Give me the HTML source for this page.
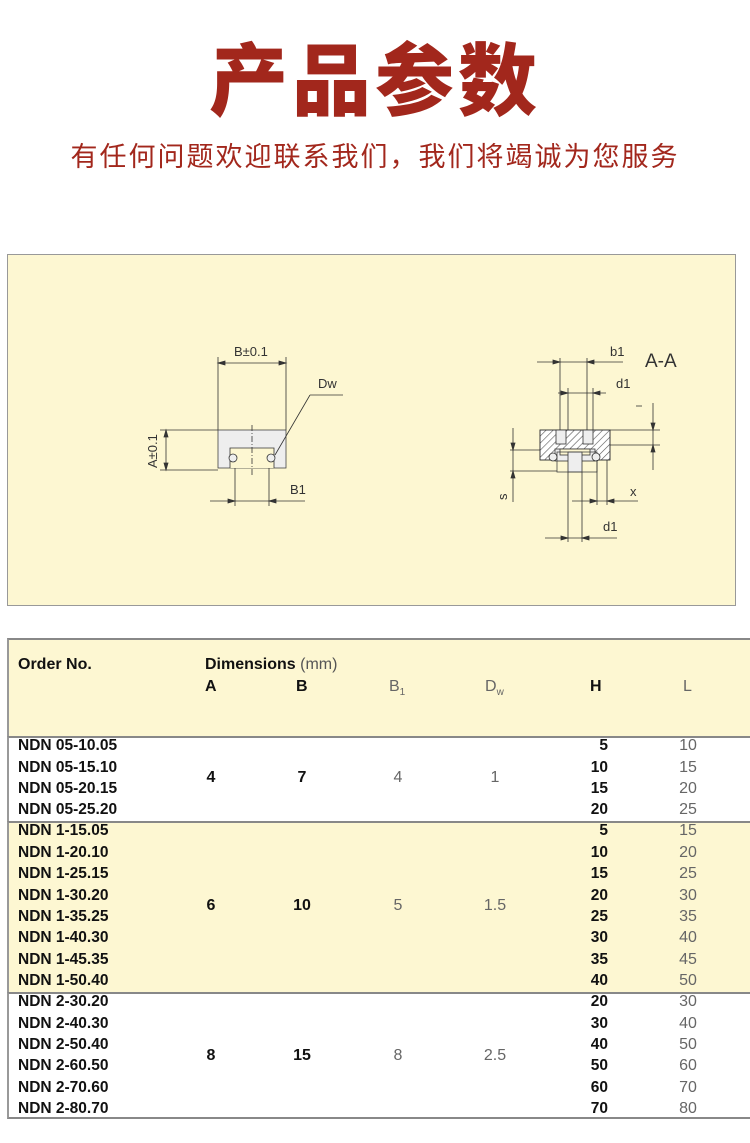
<!DOCTYPE html>
<html><head><meta charset="utf-8"><style>
body{margin:0;width:750px;height:1143px;background:#fff;position:relative;overflow:hidden;font-family:"Liberation Sans",Arial,sans-serif}
.t{position:absolute;white-space:nowrap}
.o{position:absolute;left:18px;font-weight:bold;font-size:15.5px;color:#111;height:20px;line-height:20px}
.h{position:absolute;width:40px;left:568px;text-align:right;font-weight:bold;font-size:15.5px;color:#111;height:20px;line-height:20px}
.l{position:absolute;width:40px;left:668px;text-align:center;font-size:16px;color:#666;height:20px;line-height:20px}
.c{position:absolute;height:20px;line-height:20px;font-size:16px;text-align:center;width:40px}
.b{font-weight:bold;color:#111}
.g{color:#666}
</style></head><body>
<div class="t" style="left:0;width:750px;top:34px;text-align:center;font-family:'Liberation Sans','Noto Sans CJK SC',sans-serif;font-weight:900;font-size:79px;color:#a2271c;letter-spacing:4px;line-height:95px">产品参数</div>
<div class="t" style="left:0;width:750px;top:139px;text-align:center;font-family:'Liberation Sans','Noto Sans CJK SC',sans-serif;font-size:27px;color:#a2271c;letter-spacing:2px;line-height:36px">有任何问题欢迎联系我们，我们将竭诚为您服务</div>

<div style="position:absolute;left:7px;top:254px;width:729px;height:352px;background:#fdf7d2;border:1px solid #999;box-sizing:border-box"></div>
<svg style="position:absolute;left:0;top:0" width="750" height="620" viewBox="0 0 750 620" fill="none" stroke="#333" stroke-width="0.8" font-family="Liberation Sans, sans-serif">
<line x1="218" y1="357" x2="218" y2="430"/><line x1="286" y1="357" x2="286" y2="430"/>
<line x1="218" y1="363" x2="286" y2="363"/>
<path d="M218 363 l7 -2 v4z M286 363 l-7 -2 v4z" fill="#333"/>
<text x="234" y="356" font-size="13" fill="#333" stroke="none">B±0.1</text>
<rect x="218" y="430" width="68" height="38" fill="#eeeeee" stroke="#444"/>
<path d="M230 468 v-20 h44 v20" fill="#fdf7d2"/>
<circle cx="233" cy="458" r="4" fill="#eee"/><circle cx="271" cy="458" r="4" fill="#eee"/>
<line x1="252" y1="425" x2="252" y2="475" stroke-dasharray="6 2 1 2"/>
<line x1="160" y1="430" x2="218" y2="430"/><line x1="160" y1="470" x2="218" y2="470"/>
<line x1="166" y1="430" x2="166" y2="470"/>
<path d="M166 430 l-2 7 h4z M166 470 l-2 -7 h4z" fill="#333"/>
<text transform="translate(157,468) rotate(-90)" font-size="13" fill="#333" stroke="none">A±0.1</text>
<line x1="275" y1="455" x2="310" y2="395"/><line x1="310" y1="395" x2="343" y2="395"/>
<text x="318" y="388" font-size="13" fill="#333" stroke="none">Dw</text>
<line x1="235" y1="468" x2="235" y2="506"/><line x1="269" y1="468" x2="269" y2="506"/>
<line x1="210" y1="501" x2="305" y2="501"/>
<path d="M235 501 l-7 -2 v4z M269 501 l7 -2 v4z" fill="#333"/>
<text x="290" y="494" font-size="13" fill="#333" stroke="none">B1</text>
<defs><pattern id="hatch" width="5" height="5" patternUnits="userSpaceOnUse" patternTransform="rotate(45)"><line x1="0" y1="0" x2="0" y2="5" stroke="#555" stroke-width="1.2"/></pattern></defs>
<rect x="540" y="430" width="70" height="30" fill="#fff"/>
<path d="M540 430 h70 v30 h-70z" fill="url(#hatch)"/>
<rect x="555" y="449" width="40" height="12" fill="#eee"/>
<rect x="560" y="449" width="30" height="6" fill="#fdf7d2"/>
<rect x="556" y="430" width="10" height="14" fill="#eee"/><rect x="583" y="430" width="10" height="14" fill="#eee"/>
<rect x="568" y="452" width="14" height="20" fill="#eee"/>
<rect x="557" y="452" width="40" height="20" fill="none" stroke="#444"/>
<circle cx="553" cy="457" r="4" fill="#eee"/><circle cx="596" cy="457" r="4" fill="#eee"/>
<line x1="560" y1="358" x2="560" y2="430"/><line x1="587" y1="358" x2="587" y2="430"/>
<line x1="537" y1="362" x2="623" y2="362"/>
<path d="M560 362 l-7 -2 v4z M587 362 l7 -2 v4z" fill="#333"/>
<text x="610" y="356" font-size="13" fill="#333" stroke="none">b1</text>
<text x="645" y="367" font-size="19" fill="#333" stroke="none">A-A</text>
<line x1="568" y1="388" x2="568" y2="430"/><line x1="593" y1="388" x2="593" y2="430"/>
<line x1="558" y1="393" x2="606" y2="393"/>
<path d="M568 393 l-7 -2 v4z M593 393 l7 -2 v4z" fill="#333"/>
<text x="616" y="388" font-size="13" fill="#333" stroke="none">d1</text>
<line x1="610" y1="430" x2="660" y2="430"/><line x1="610" y1="445" x2="660" y2="445"/>
<line x1="653" y1="403" x2="653" y2="470"/>
<path d="M653 430 l-2 -7 h4z M653 445 l-2 7 h4z" fill="#333"/>
<line x1="636" y1="406" x2="642" y2="406"/>
<line x1="510" y1="450" x2="540" y2="450"/><line x1="510" y1="471" x2="557" y2="471"/>
<line x1="513" y1="428" x2="513" y2="502"/>
<path d="M513 450 l-2 -7 h4z M513 471 l-2 7 h4z" fill="#333"/>
<text transform="translate(507,500) rotate(-90)" font-size="13" fill="#333" stroke="none">s</text>
<line x1="597" y1="460" x2="597" y2="505"/><line x1="607" y1="460" x2="607" y2="505"/>
<line x1="572" y1="501" x2="638" y2="501"/>
<path d="M597 501 l-7 -2 v4z M607 501 l7 -2 v4z" fill="#333"/>
<text x="630" y="496" font-size="13" fill="#333" stroke="none">x</text>
<line x1="568" y1="472" x2="568" y2="542"/><line x1="582" y1="472" x2="582" y2="542"/>
<line x1="545" y1="538" x2="617" y2="538"/>
<path d="M568 538 l-7 -2 v4z M582 538 l7 -2 v4z" fill="#333"/>
<text x="603" y="531" font-size="13" fill="#333" stroke="none">d1</text>
</svg>

<div style="position:absolute;left:7px;top:638px;width:743px;height:98px;background:#fdf7d2;border-top:2px solid #888;border-left:2px solid #999;box-sizing:border-box"></div>
<div style="position:absolute;left:7px;top:736px;width:743px;height:86px;background:#fff;border-top:2px solid #888;border-left:2px solid #999;box-sizing:border-box"></div>
<div style="position:absolute;left:7px;top:821px;width:743px;height:172px;background:#fdf7d2;border-top:2px solid #888;border-left:2px solid #999;box-sizing:border-box"></div>
<div style="position:absolute;left:7px;top:992px;width:743px;height:127px;background:#fff;border-top:2px solid #888;border-bottom:2px solid #888;border-left:2px solid #999;box-sizing:border-box"></div>

<div class="t" style="left:18px;top:656px;font-weight:bold;font-size:16px;color:#111">Order No.</div>
<div class="t" style="left:205px;top:656px;font-size:16px;color:#111"><b>Dimensions</b> <span style="color:#555">(mm)</span></div>
<div class="t b" style="left:205px;top:678px;font-size:16px">A</div>
<div class="t b" style="left:296px;top:678px;font-size:16px">B</div>
<div class="t g" style="left:389px;top:678px;font-size:16px">B<sub style="font-size:10px">1</sub></div>
<div class="t g" style="left:485px;top:678px;font-size:16px">D<sub style="font-size:10px">w</sub></div>
<div class="t b" style="left:590px;top:678px;font-size:16px">H</div>
<div class="t g" style="left:683px;top:678px;font-size:16px">L</div>

<div class="o" style="top:736px">NDN 05-10.05</div><div class="h" style="top:736px">5</div><div class="l" style="top:736px">10</div>
<div class="o" style="top:758px">NDN 05-15.10</div><div class="h" style="top:758px">10</div><div class="l" style="top:758px">15</div>
<div class="o" style="top:779px">NDN 05-20.15</div><div class="h" style="top:779px">15</div><div class="l" style="top:779px">20</div>
<div class="o" style="top:800px">NDN 05-25.20</div><div class="h" style="top:800px">20</div><div class="l" style="top:800px">25</div>
<div class="c b" style="left:191px;top:768px">4</div><div class="c b" style="left:282px;top:768px">7</div><div class="c g" style="left:378px;top:768px">4</div><div class="c g" style="left:475px;top:768px">1</div>

<div class="o" style="top:821px">NDN 1-15.05</div><div class="h" style="top:821px">5</div><div class="l" style="top:821px">15</div>
<div class="o" style="top:843px">NDN 1-20.10</div><div class="h" style="top:843px">10</div><div class="l" style="top:843px">20</div>
<div class="o" style="top:864px">NDN 1-25.15</div><div class="h" style="top:864px">15</div><div class="l" style="top:864px">25</div>
<div class="o" style="top:886px">NDN 1-30.20</div><div class="h" style="top:886px">20</div><div class="l" style="top:886px">30</div>
<div class="o" style="top:907px">NDN 1-35.25</div><div class="h" style="top:907px">25</div><div class="l" style="top:907px">35</div>
<div class="o" style="top:928px">NDN 1-40.30</div><div class="h" style="top:928px">30</div><div class="l" style="top:928px">40</div>
<div class="o" style="top:950px">NDN 1-45.35</div><div class="h" style="top:950px">35</div><div class="l" style="top:950px">45</div>
<div class="o" style="top:971px">NDN 1-50.40</div><div class="h" style="top:971px">40</div><div class="l" style="top:971px">50</div>
<div class="c b" style="left:191px;top:896px">6</div><div class="c b" style="left:282px;top:896px">10</div><div class="c g" style="left:378px;top:896px">5</div><div class="c g" style="left:475px;top:896px">1.5</div>

<div class="o" style="top:992px">NDN 2-30.20</div><div class="h" style="top:992px">20</div><div class="l" style="top:992px">30</div>
<div class="o" style="top:1014px">NDN 2-40.30</div><div class="h" style="top:1014px">30</div><div class="l" style="top:1014px">40</div>
<div class="o" style="top:1035px">NDN 2-50.40</div><div class="h" style="top:1035px">40</div><div class="l" style="top:1035px">50</div>
<div class="o" style="top:1056px">NDN 2-60.50</div><div class="h" style="top:1056px">50</div><div class="l" style="top:1056px">60</div>
<div class="o" style="top:1078px">NDN 2-70.60</div><div class="h" style="top:1078px">60</div><div class="l" style="top:1078px">70</div>
<div class="o" style="top:1099px">NDN 2-80.70</div><div class="h" style="top:1099px">70</div><div class="l" style="top:1099px">80</div>
<div class="c b" style="left:191px;top:1046px">8</div><div class="c b" style="left:282px;top:1046px">15</div><div class="c g" style="left:378px;top:1046px">8</div><div class="c g" style="left:475px;top:1046px">2.5</div>
</body></html>
